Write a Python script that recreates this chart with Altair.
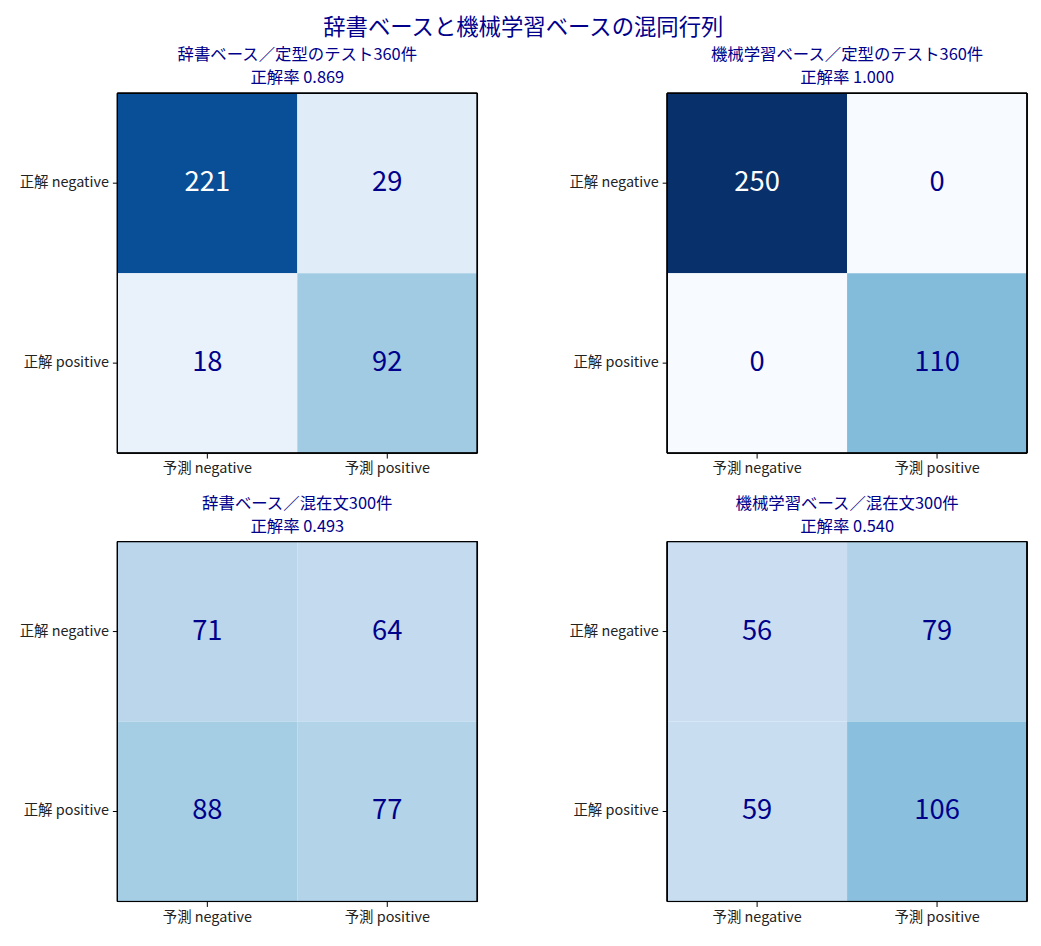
import altair as alt
import pandas as pd

suptitle = "辞書ベースと機械学習ベースの混同行列"
panel_titles = [
    "辞書ベース／定型のテスト360件",
    "機械学習ベース／定型のテスト360件",
    "辞書ベース／混在文300件",
    "機械学習ベース／混在文300件",
]
accuracy = ["0.869", "1.000", "0.493", "0.540"]
true_labels = ["正解 negative", "正解 positive"]
pred_labels = ["予測 negative", "予測 positive"]
# rows: true negative, true positive; cols: pred negative, pred positive
matrices = [
    [[221, 29], [18, 92]],
    [[250, 0], [0, 110]],
    [[71, 64], [88, 77]],
    [[56, 79], [59, 106]],
]

blues = ["#f7fbff", "#deebf7", "#c6dbef", "#9ecae1", "#6baed6",
         "#4292c6", "#2171b5", "#08519c", "#08306b"]
vmax = 250
dom = [vmax * i / 8 for i in range(9)]

FONT = "Noto Sans CJK JP"
NAVY = "#00008b"
SIZE = 362


def panel(i):
    rows = []
    m = matrices[i]
    for r in range(2):
        for c in range(2):
            rows.append({"true": true_labels[r], "pred": pred_labels[c], "v": m[r][c]})
    df = pd.DataFrame(rows)
    base = alt.Chart(df).encode(
        x=alt.X("pred:N", sort=pred_labels,
                scale=alt.Scale(paddingInner=0, paddingOuter=0),
                axis=alt.Axis(title=None, labelAngle=0, domain=False, tickColor="black",
                              tickSize=5, labelPadding=4, labelFontSize=14.5,
                              labelColor="#222222", labelFont=FONT)),
        y=alt.Y("true:N", sort=true_labels,
                scale=alt.Scale(paddingInner=0, paddingOuter=0),
                axis=alt.Axis(title=None, domain=False, tickColor="black",
                              tickSize=5, labelPadding=4, labelFontSize=14.5,
                              labelColor="#222222", labelFont=FONT)),
    )
    rect = base.mark_rect().encode(
        color=alt.Color("v:Q", legend=None,
                        scale=alt.Scale(domain=dom, range=blues, interpolate="rgb", clamp=True))
    )
    text = base.mark_text(fontSize=27.5, font=FONT, baseline="middle").encode(
        text="v:Q",
        color=alt.condition(alt.datum.v > vmax / 2, alt.value("white"), alt.value(NAVY)),
    )
    frame = alt.Chart(df).mark_rect(fill=None, stroke="black", strokeWidth=1).encode(
        x=alt.value(0), x2=alt.value(SIZE), y=alt.value(0), y2=alt.value(SIZE)
    )
    return (rect + text + frame).properties(
        width=SIZE, height=SIZE,
        title=alt.TitleParams(text=[panel_titles[i], "正解率 " + accuracy[i]],
                              fontSize=16.5, font=FONT, color=NAVY, fontWeight="normal",
                              offset=6, lineHeight=23),
    )


row1 = alt.hconcat(panel(0), panel(1), spacing=90)
row2 = alt.hconcat(panel(2), panel(3), spacing=90)
chart = alt.vconcat(row1, row2, spacing=19).properties(
    title=alt.TitleParams(text=suptitle, fontSize=22.5, font=FONT, color=NAVY,
                          fontWeight="normal", anchor="middle", offset=8),
    padding={"left": 10, "top": 6, "right": 5, "bottom": 5},
).configure_view(stroke=None).configure(background="white")

chart.save("out.html", embed_options={"renderer": "svg", "actions": False})
